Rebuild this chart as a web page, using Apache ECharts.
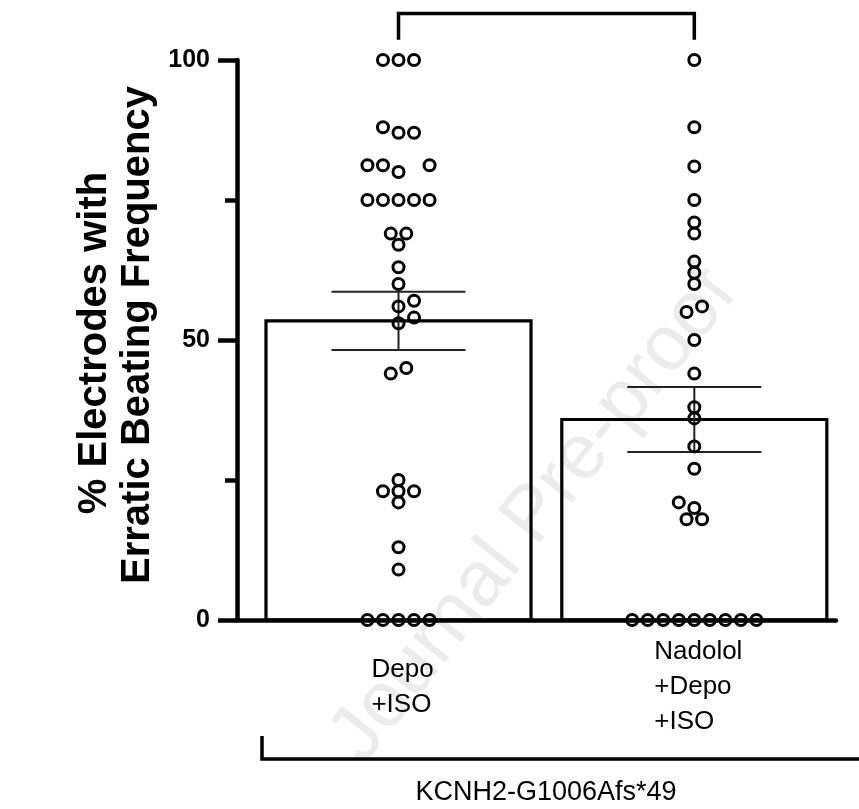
<!DOCTYPE html>
<html>
<head>
<meta charset="utf-8">
<script src="https://cdn.jsdelivr.net/npm/echarts@6/dist/echarts.min.js"></script>
<style>html,body{margin:0;background:#fff}#main{width:859px;height:809px}</style>
</head>
<body>
<div id="main"></div>
<script>
// groups and their x positions
const groupNames = ['Depo\n+ISO', 'Nadolol\n+Depo\n+ISO'];
const groupX = [1, 2];
const barMeans = [53.4, 35.8];
const barSem = [5.2, 5.8];
const yTicks = [0, 50, 100];

// individual electrodes (% erratic), offsets are in dot widths
const depoValues = [100, 100, 100, 88, 87, 87, 81.2, 81.2, 80, 81.2, 75, 75, 75, 75, 75,
  69, 69, 67, 63, 60, 57, 56, 54, 53, 45, 44, 25, 23, 23, 23, 21, 13, 9, 0, 0, 0, 0, 0];
const depoOffsets = [-1, 0, 1, -1, 0, 1, -2, -1, 0, 2, -2, -1, 0, 1, 2,
  -0.5, 0.5, 0, 0, 0, 1, 0, 1, 0, 0.5, -0.5, 0, -1, 0, 1, 0, 0, 0, -2, -1, 0, 1, 2];
const nadololValues = [100, 88, 81, 75, 71, 69, 64, 62, 60, 56, 55, 50, 44, 38, 36, 31, 27,
  21, 20, 18, 18, 0, 0, 0, 0, 0, 0, 0, 0, 0];
const nadololOffsets = [0, 0, 0, 0, 0, 0, 0, 0, 0, 0.5, -0.5, 0, 0, 0, 0, 0, 0,
  -1, 0, -0.5, 0.5, -4, -3, -2, -1, 0, 1, 2, 3, 4];

const dotStep = 0.0525;
const barWidthUnits = 0.896;
const capWidthUnits = 0.453;
const FONT = 'Arial, "Liberation Sans", sans-serif';

function dots(values, offsets, gx) {
  return values.map((v, i) => [gx + offsets[i] * dotStep, v]);
}

const ctx = document.createElement('canvas').getContext('2d');
function blockWidth(text, font) {
  ctx.font = font;
  return Math.max(...text.split('\n').map(s => ctx.measureText(s).width));
}

const chart = echarts.init(document.getElementById('main'));

const option = {
  backgroundColor: '#fff',
  animation: false,
  grid: { left: 237, right: 23, top: 60, bottom: 189, outerBoundsMode: 'none' },
  xAxis: {
    type: 'value', min: 0.454, max: 2.479,
    axisLine: { show: true, lineStyle: { color: '#000', width: 4.5 } },
    axisTick: { show: false }, axisLabel: { show: false }, splitLine: { show: false }
  },
  yAxis: {
    type: 'value', min: 0, max: 100, interval: 50,
    axisLine: { show: true, lineStyle: { color: '#000', width: 4.5 } },
    axisTick: { show: true, length: 19, lineStyle: { color: '#000', width: 4.5 } },
    minorTick: { show: true, splitNumber: 2, length: 12, lineStyle: { color: '#000', width: 4.5 } },
    splitLine: { show: false },
    axisLabel: {
      color: '#000', fontSize: 25, fontWeight: 'bold', fontFamily: FONT, margin: 27,
      formatter: v => yTicks.includes(v) ? String(v) : ''
    }
  },
  graphic: [
    {
      type: 'text', x: 534, y: 516, rotation: 0.9, z: -10,
      style: { text: 'Journal Pre-proof', fill: '#ececec', font: '78px ' + FONT, align: 'center', verticalAlign: 'middle' }
    },
    {
      type: 'text', x: 95, y: 343, rotation: Math.PI / 2,
      style: { text: '% Electrodes with', fill: '#000', font: 'bold 40px ' + FONT, align: 'center', verticalAlign: 'middle' }
    },
    {
      type: 'text', x: 138, y: 335, rotation: Math.PI / 2,
      style: { text: 'Erratic Beating Frequency', fill: '#000', font: 'bold 40px ' + FONT, align: 'center', verticalAlign: 'middle' }
    },
    {
      type: 'polyline',
      shape: { points: [[262, 736], [262, 759], [870, 759]] },
      style: { stroke: '#000', lineWidth: 3.5, fill: null }
    },
    {
      type: 'text', x: 546, y: 793,
      style: { text: 'KCNH2-G1006Afs*49', fill: '#000', font: '27px ' + FONT, align: 'center', verticalAlign: 'middle' }
    }
  ],
  series: [
    {
      // bars = group means
      type: 'custom',
      data: groupX.map((x, i) => [x, barMeans[i]]),
      z: 2,
      renderItem: (params, api) => {
        const x = api.value(0);
        const top = api.coord([x, api.value(1)]);
        const base = api.coord([x, 0]);
        const w = api.size([barWidthUnits, 0])[0];
        return {
          type: 'rect',
          shape: { x: top[0] - w / 2, y: top[1], width: w, height: base[1] - top[1] },
          style: { fill: 'none', stroke: '#000', lineWidth: 3.2 }
        };
      }
    },
    {
      // SEM error bars
      type: 'custom',
      data: groupX.map((x, i) => [x, barMeans[i] - barSem[i], barMeans[i] + barSem[i]]),
      z: 3,
      renderItem: (params, api) => {
        const x = api.value(0);
        const lo = api.coord([x, api.value(1)]);
        const hi = api.coord([x, api.value(2)]);
        const cw = api.size([capWidthUnits, 0])[0];
        const st = { stroke: '#222', lineWidth: 2 };
        return {
          type: 'group',
          children: [
            { type: 'line', shape: { x1: lo[0], y1: lo[1], x2: hi[0], y2: hi[1] }, style: st },
            { type: 'line', shape: { x1: lo[0] - cw / 2, y1: lo[1], x2: lo[0] + cw / 2, y2: lo[1] }, style: st },
            { type: 'line', shape: { x1: hi[0] - cw / 2, y1: hi[1], x2: hi[0] + cw / 2, y2: hi[1] }, style: st }
          ]
        };
      }
    },
    {
      type: 'scatter',
      data: dots(depoValues, depoOffsets, groupX[0]).concat(dots(nadololValues, nadololOffsets, groupX[1])),
      symbol: 'circle', symbolSize: 11, z: 5,
      itemStyle: { color: 'rgba(0,0,0,0)', borderColor: '#000', borderWidth: 3, opacity: 1 }
    },
    {
      // comparison bracket
      type: 'custom',
      data: [[groupX[0], groupX[1], 103.6, 108.3]],
      clip: false,
      renderItem: (params, api) => {
        const a = api.coord([api.value(0), api.value(2)]);
        const b = api.coord([api.value(0), api.value(3)]);
        const c = api.coord([api.value(1), api.value(3)]);
        const d = api.coord([api.value(1), api.value(2)]);
        return {
          type: 'polyline',
          shape: { points: [a, b, c, d] },
          style: { stroke: '#000', lineWidth: 3.5, fill: null }
        };
      }
    },
    {
      // group labels under the axis
      type: 'custom',
      data: groupX.map(x => [x, 0]),
      clip: false,
      renderItem: (params, api) => {
        const p = api.coord([api.value(0), 0]);
        const text = groupNames[params.dataIndex];
        const font = '26px ' + FONT;
        const w = blockWidth(text, font);
        return {
          type: 'text',
          style: {
            text: text, x: p[0] - w / 2 + 4, y: p[1] + 67, font: font, fill: '#000',
            align: 'left', verticalAlign: 'middle', lineHeight: 35
          }
        };
      }
    }
  ]
};
chart.setOption(option);
</script>
</body>
</html>
